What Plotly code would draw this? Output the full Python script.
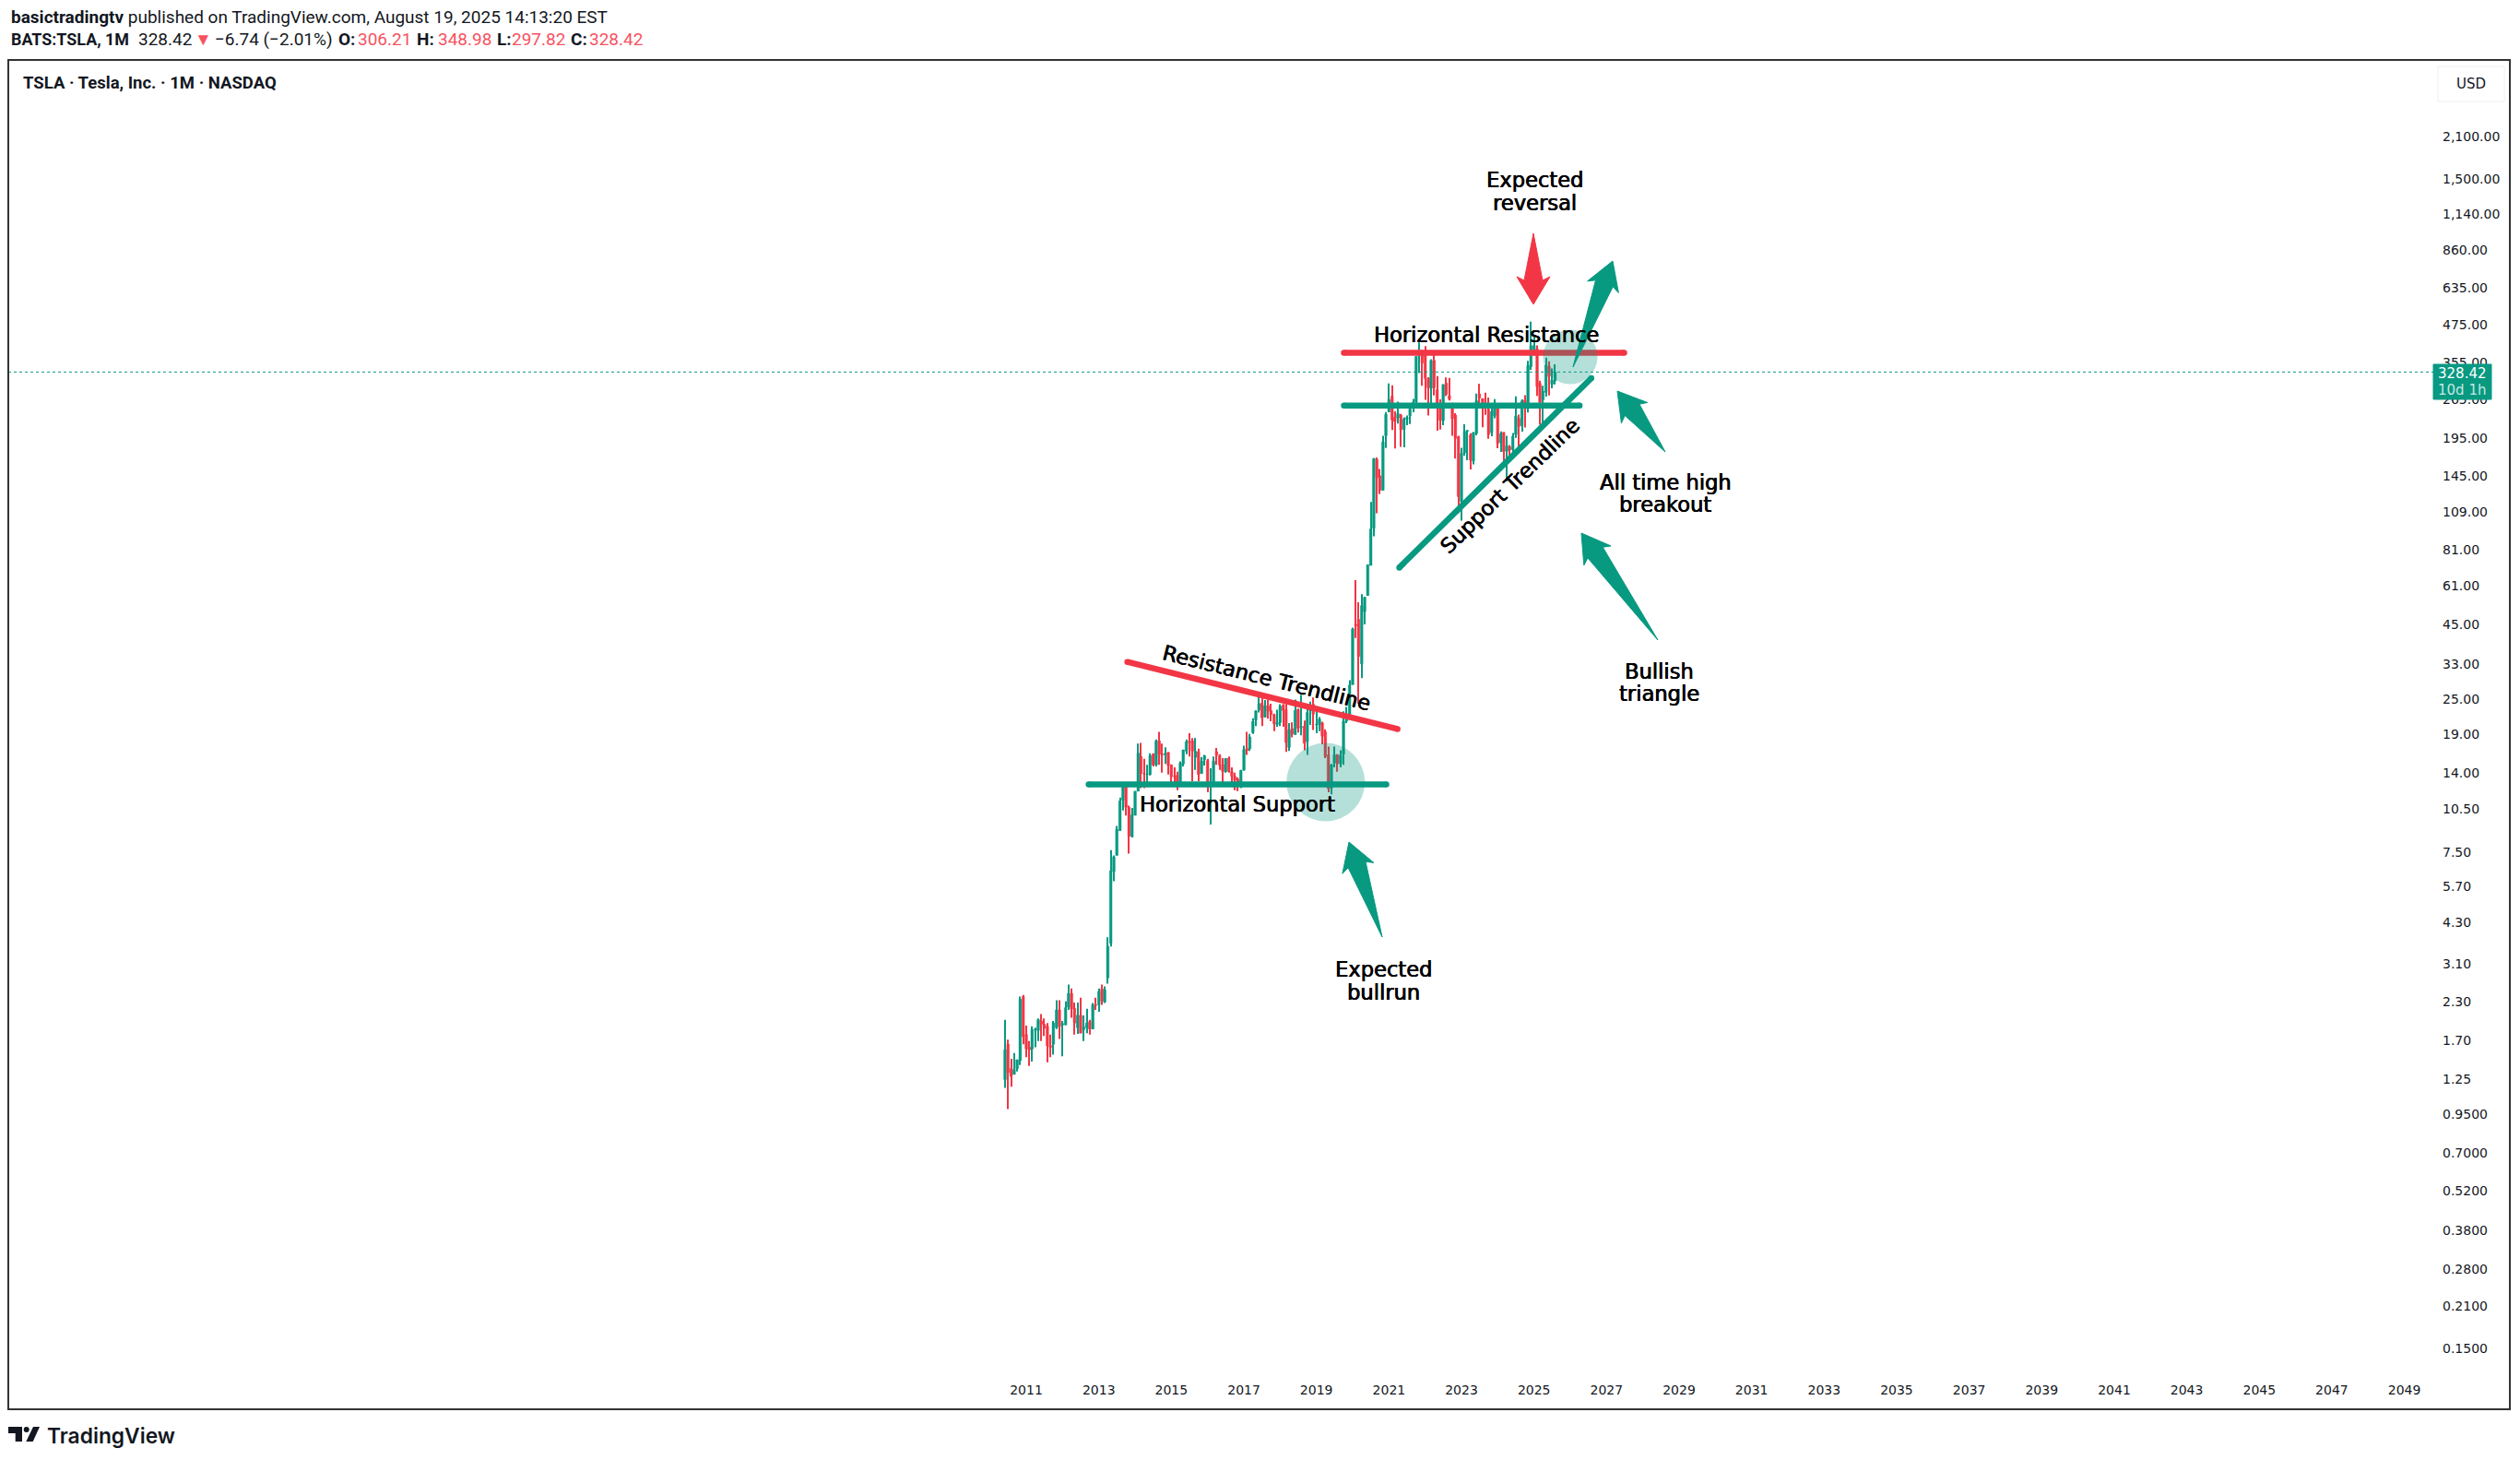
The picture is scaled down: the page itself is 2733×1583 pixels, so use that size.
#!/usr/bin/env python3

import math

import pandas as pd
import plotly.graph_objects as go

# monthly candles, Jun 2010 to Aug 2025, one row per year
opens = [
    1.25, 1.65, 1.36, 1.30, 1.36, 1.45, 2.40,
    1.78, 1.61, 1.59, 1.845, 1.84, 1.98, 1.93, 1.90, 1.63, 1.65, 1.88, 2.16,
    1.92, 1.92, 2.21, 2.46, 2.19, 1.88, 2.07, 1.85, 1.88, 1.97, 1.86, 2.25,
    2.25, 2.55, 2.30, 2.78, 3.65, 6.43, 7.30, 8.87, 11.27, 12.89, 10.65, 8.46,
    10.0, 12.10, 15.9, 13.9, 13.85, 13.8, 16.2, 14.9, 18.0, 16.2, 16.1, 16.4,
    14.9, 13.6, 13.7, 12.6, 15.0, 16.6, 17.9, 18.0, 15.8, 16.5, 13.9, 15.5,
    15.4, 12.7, 12.6, 16.5, 16.0, 14.9, 14.1, 15.7, 14.1, 13.6, 13.3, 12.6,
    14.3, 16.9, 16.9, 19.2, 21.2, 22.9, 24.2, 21.7, 23.7, 22.8, 22.1, 20.5,
    20.8, 23.9, 23.0, 17.1, 19.8, 18.9, 23.0, 20.0, 20.2, 17.9, 22.8, 24.0,
    20.4, 20.4, 20.7, 19.3, 16.1, 12.4, 15.1, 16.1, 15.0, 16.2, 21.0, 22.1,
    28.0, 45.0, 46.8, 33.0, 49.8, 56.5, 71.6, 96.0, 165.0, 145.0, 129.4, 199.2,
    239.8, 271.4, 230, 229, 234, 209, 227, 233, 248, 259.5, 381, 387,
    382, 312, 289, 360, 286, 251, 224, 301, 272.6, 254.5, 234, 197.1,
    118.5, 173.9, 206, 199.9, 163, 202.6, 276.5, 266.3, 257.3, 244.8, 204, 233,
    250, 188.5, 204, 176.2, 182, 178.1, 201, 227.7, 215, 262.7, 253, 343,
    390, 393, 300.3, 263.8, 280, 343.5, 298.5, 306.21,
]
highs = [
    2.00, 1.71, 1.47, 1.54, 1.46, 2.40, 2.43,
    1.91, 1.69, 1.90, 1.88, 2.02, 2.09, 2.02, 1.95, 1.78, 1.98, 2.33, 2.33,
    1.98, 2.31, 2.64, 2.56, 2.29, 2.29, 2.38, 2.07, 2.18, 2.00, 2.28, 2.38,
    2.56, 2.64, 2.60, 3.83, 7.60, 7.30, 9.20, 11.50, 12.97, 12.89, 10.80, 10.60,
    12.10, 17.6, 17.7, 15.6, 14.9, 16.3, 16.3, 18.2, 19.3, 17.6, 17.1, 16.5,
    14.9, 14.6, 14.1, 15.3, 16.8, 18.2, 19.1, 18.4, 18.4, 16.9, 15.8, 16.1,
    15.6, 14.5, 15.9, 17.0, 16.2, 15.7, 15.7, 15.9, 14.6, 14.0, 13.5, 14.3,
    17.3, 19.3, 19.0, 21.5, 22.9, 25.8, 25.9, 24.8, 24.9, 24.1, 22.3, 23.0,
    24.0, 24.0, 24.0, 20.7, 20.8, 24.9, 23.2, 25.8, 21.1, 23.1, 24.5, 25.3,
    23.5, 21.7, 20.9, 19.7, 17.2, 15.0, 17.2, 16.2, 16.7, 22.7, 23.5, 29.0,
    43.9, 63.8, 53.6, 57.1, 56.0, 72.0, 118.0, 166.7, 167.5, 153.0, 198.6, 239.6,
    300.1, 296, 241, 260, 236, 230, 233, 248, 266, 371.7, 414.5, 390.9,
    402.7, 315, 363, 384, 318, 265, 298.3, 314.7, 313.8, 257.5, 237.4, 198.9,
    180.7, 217.7, 207.8, 202.7, 204.5, 276.99, 299.3, 266.5, 278.98, 268.9, 252.75, 265.1,
    251.3, 205.6, 204.5, 198.9, 184.8, 203.2, 271, 234.7, 264.9, 273.5, 358.6, 488.5,
    439.7, 405, 307, 294.9, 367.7, 357.5, 338, 348.98,
]
lows = [
    1.17, 0.99, 1.18, 1.30, 1.33, 1.40, 1.65,
    1.49, 1.39, 1.44, 1.61, 1.69, 1.69, 1.76, 1.43, 1.49, 1.52, 1.86, 1.72,
    1.50, 1.92, 2.16, 2.03, 1.78, 1.79, 1.80, 1.69, 1.80, 1.78, 1.86, 2.16,
    2.13, 2.25, 2.28, 2.66, 3.56, 5.95, 7.30, 8.87, 10.40, 9.98, 7.40, 8.40,
    10.0, 12.10, 12.4, 12.4, 12.5, 13.7, 14.7, 14.7, 14.9, 14.0, 15.0, 13.8,
    12.5, 12.5, 12.2, 12.5, 14.7, 16.2, 15.9, 13.1, 14.3, 13.1, 13.9, 14.8,
    12.0, 9.3, 12.5, 14.9, 14.3, 12.9, 14.0, 14.0, 12.5, 12.2, 12.1, 12.4,
    14.2, 16.1, 16.6, 19.0, 20.2, 22.5, 20.2, 21.6, 21.4, 21.0, 19.4, 20.1,
    20.2, 20.1, 16.5, 16.6, 18.5, 18.9, 19.2, 18.8, 16.7, 16.1, 20.4, 19.6,
    19.1, 19.4, 17.5, 15.7, 12.0, 11.8, 14.6, 14.1, 14.6, 14.9, 20.7, 21.8,
    28.0, 40.4, 24.1, 29.5, 45.0, 56.5, 71.6, 90.0, 108.0, 125.6, 129.4, 180.4,
    239.1, 208, 179.8, 219, 182.3, 181.4, 216, 218, 239, 257, 326, 295,
    264, 233, 252, 273, 206.9, 208.7, 216, 271.8, 262.5, 198.6, 166.2, 108.2,
    101.8, 169.9, 163.9, 152.4, 158.8, 199.4, 254.1, 212.4, 234.6, 194.1, 197.9, 228.2,
    180.1, 175, 160.5, 138.8, 167.4, 170.2, 195.4, 180.1, 205.3, 212.1, 238.9, 334,
    373, 272, 217, 214.25, 270.8, 273.2, 288.8, 297.82,
]
closes = [
    1.58, 1.32, 1.28, 1.35, 1.46, 2.35, 1.75,
    1.59, 1.58, 1.85, 1.855, 2.00, 1.93, 1.87, 1.63, 1.61, 1.95, 2.16, 1.90,
    1.94, 2.20, 2.46, 2.18, 1.95, 2.07, 1.80, 1.89, 1.95, 1.86, 2.25, 2.24,
    2.50, 2.32, 2.53, 3.57, 6.47, 7.21, 8.95, 11.20, 12.89, 10.66, 8.49, 10.03,
    12.09, 16.32, 13.90, 13.86, 13.87, 16.0, 14.89, 17.98, 16.18, 16.11, 16.30, 14.83,
    13.57, 13.56, 12.58, 15.07, 16.72, 17.88, 17.74, 16.60, 16.56, 13.80, 15.35, 16.0,
    12.75, 12.80, 15.32, 16.05, 14.88, 14.15, 15.65, 14.13, 13.60, 13.18, 12.63, 14.25,
    16.80, 16.67, 18.55, 20.94, 22.73, 24.11, 21.56, 23.73, 22.74, 22.10, 20.59, 20.76,
    23.62, 22.87, 17.74, 19.59, 18.98, 22.86, 19.88, 20.11, 17.65, 22.49, 23.37, 22.19,
    20.47, 21.33, 18.66, 15.91, 12.34, 14.90, 16.11, 15.04, 16.06, 20.99, 22.0, 27.89,
    43.37, 44.53, 34.93, 52.13, 55.67, 71.99, 95.38, 166.11, 143.0, 129.35, 189.2, 235.22,
    264.51, 225.17, 222.64, 236.48, 208.41, 226.57, 229.07, 245.24, 258.49, 371.33, 381.59, 352.26,
    312.24, 290.14, 359.2, 290.25, 252.75, 224.47, 297.15, 275.61, 265.25, 227.54, 194.7, 123.18,
    173.22, 205.71, 207.46, 164.31, 203.93, 261.77, 267.43, 258.08, 250.22, 200.84, 240.08, 248.48,
    187.29, 201.88, 175.79, 183.28, 178.08, 197.88, 232.07, 214.11, 261.63, 249.85, 345.16, 403.84,
    404.6, 292.98, 259.16, 282.16, 346.46, 317.66, 308.27, 328.42,
]

price_ticks = [
    0.15, 0.21, 0.28, 0.38, 0.52, 0.70, 0.95, 1.25, 1.70, 2.30, 3.10, 4.30, 5.70,
    7.50, 10.50, 14, 19, 25, 33, 45, 61, 81, 109, 145, 195, 265, 355, 475, 635,
    860, 1140, 1500, 2100, 2800,
]
price_labels = [
    "0.1500", "0.2100", "0.2800", "0.3800", "0.5200", "0.7000", "0.9500", "1.25",
    "1.70", "2.30", "3.10", "4.30", "5.70", "7.50", "10.50", "14.00", "19.00",
    "25.00", "33.00", "45.00", "61.00", "81.00", "109.00", "145.00", "195.00",
    "265.00", "355.00", "475.00", "635.00", "860.00", "1,140.00", "1,500.00",
    "2,100.00", "2,800.00",
]
year_ticks = list(range(2011, 2050, 2))

last_price = 328.42

# drawn trend lines: colour, start date, end date, start price, end price
trend_lines = [
    ("#089981", "2012-09-20", "2020-12-05", 12.76, 12.76),
    ("#F23645", "2013-10-15", "2021-03-28", 33.5, 19.75),
    ("#F23645", "2019-10-05", "2027-06-28", 382, 382),
    ("#089981", "2019-10-05", "2026-04-05", 252.2, 252.2),
    ("#089981", "2021-04-15", "2026-08-01", 70.4, 313),
]

GREEN = "#089981"
RED = "#F23645"
INK = "#131722"
VALUE_RED = "#F7525F"
LABEL_FONT = "DejaVu Sans"
HEAD_FONT = "Roboto"
THICK = "0.45px 0 0 #000000, -0.25px 0 0 #000000"

WIDTH, HEIGHT = 2733, 1583
LEFT, RIGHT, TOP, BOTTOM = 9, 2722, 65, 1528
DAY_MS = 86400000


def px(x, y):
    """Screen pixel to paper coordinates of the framed box."""
    return (x - LEFT) / (RIGHT - LEFT), (BOTTOM - y) / (BOTTOM - TOP)


def path_of(points):
    parts = []
    for x, y in points:
        u, v = px(x, y)
        parts.append(f"{u:.5f},{v:.5f}")
    return "M " + " L ".join(parts) + " Z"


def arrow(tail, tip, color):
    dx, dy = tip[0] - tail[0], tip[1] - tail[1]
    length = math.hypot(dx, dy)
    ux, uy = dx / length, dy / length
    nx, ny = -uy, ux
    bx, by = tip[0] - ux * 30, tip[1] - uy * 30
    nk = (tip[0] - ux * 26, tip[1] - uy * 26)
    points = [
        tip,
        (bx + nx * 18, by + ny * 18),
        (nk[0] + nx * 10, nk[1] + ny * 10),
        tail,
        (nk[0] - nx * 10, nk[1] - ny * 10),
        (bx - nx * 18, by - ny * 18),
    ]
    return dict(
        type="path",
        xref="paper",
        yref="paper",
        path=path_of(points),
        fillcolor=color,
        line=dict(color=color, width=1),
    )


def circle(x, y, r):
    x0, y0 = px(x - r, y + r)
    x1, y1 = px(x + r, y - r)
    return dict(
        type="circle",
        xref="paper",
        yref="paper",
        x0=x0,
        y0=y0,
        x1=x1,
        y1=y1,
        fillcolor="rgba(8,153,129,0.3)",
        line=dict(width=0),
    )


def rect(x0, y0, x1, y1, fill, line_color=None):
    u0, v0 = px(x0, y0)
    u1, v1 = px(x1, y1)
    return dict(
        type="rect",
        xref="paper",
        yref="paper",
        x0=u0,
        y0=v0,
        x1=u1,
        y1=v1,
        fillcolor=fill,
        line=dict(color=line_color or fill, width=1),
    )


def note(text, x, y, size=22.6, family=LABEL_FONT, color="#000000", angle=0, anchor="center", weight=None, shadow=None):
    u, v = px(x, y)
    font = dict(family=family, size=size, color=color)
    if weight:
        font["weight"] = weight
    if shadow:
        font["shadow"] = shadow
    return dict(
        text=text,
        x=u,
        y=v,
        xref="paper",
        yref="paper",
        xanchor=anchor,
        yanchor="middle",
        showarrow=False,
        textangle=angle,
        font=font,
    )


def mark(text, x, y, angle=0):
    return note(text, x, y, angle=angle, shadow=THICK)


def head(text, x, y, color=INK, size=19):
    return note(text, x, y, size=size, family=HEAD_FONT, color=color, anchor="left")


months = pd.date_range("2010-06-01", periods=len(closes), freq="MS")
colors = [GREEN if c >= o else RED for o, c in zip(opens, closes)]

fig = go.Figure()
# wicks and bodies are two overlaid bar layers, a candlestick trace cannot set its box width
fig.add_trace(
    go.Bar(
        x=months,
        base=lows,
        y=[h - l for h, l in zip(highs, lows)],
        width=10 * DAY_MS,
        marker=dict(color=colors, line=dict(width=0)),
        hoverinfo="skip",
    )
)
fig.add_trace(
    go.Bar(
        x=months,
        base=[min(o, c) for o, c in zip(opens, closes)],
        y=[abs(o - c) for o, c in zip(opens, closes)],
        width=25 * DAY_MS,
        marker=dict(color=colors, line=dict(color=colors, width=0.5)),
        hoverinfo="skip",
    )
)
fig.add_trace(
    go.Scatter(
        x=["1982-12-06", "2050-01-11"],
        y=[last_price, last_price],
        mode="lines",
        line=dict(color=GREEN, width=1, dash="dot"),
        hoverinfo="skip",
    )
)
for color, start, end, p0, p1 in trend_lines:
    fig.add_trace(
        go.Scatter(
            x=[start, end],
            y=[p0, p1],
            mode="lines+markers",
            line=dict(color=color, width=6.5),
            marker=dict(color=color, size=6.5),
            hoverinfo="skip",
        )
    )

shapes = [
    circle(1437.7, 848, 42.5),
    circle(1703, 387, 29.5),
    arrow((1499, 1016), (1463, 913), GREEN),
    arrow((1806, 490), (1754, 424), GREEN),
    arrow((1798, 694), (1715, 578), GREEN),
    arrow((1663, 253), (1663, 330), RED),
    arrow((1706, 398), (1749, 283), GREEN),
    # frame, USD button, last price tag
    dict(
        type="rect",
        xref="paper",
        yref="paper",
        x0=0,
        y0=0,
        x1=1,
        y1=1,
        line=dict(color="#333333", width=2),
    ),
    rect(2640, 72, 2720, 115, "#ffffff"),
    rect(2644, 72, 2716, 110, "#ffffff", "#f0f0f0"),
    rect(2639, 395, 2702, 433, GREEN),
    # logo
    dict(
        type="path",
        xref="paper",
        yref="paper",
        path=path_of([(9, 1547), (24, 1547), (24, 1563), (16.7, 1563), (16.7, 1554), (9, 1554)]),
        fillcolor=INK,
        line=dict(width=0),
    ),
    dict(
        type="path",
        xref="paper",
        yref="paper",
        path=path_of([(36, 1547), (43, 1547), (35.7, 1563), (28.3, 1563)]),
        fillcolor=INK,
        line=dict(width=0),
    ),
    circle(28.7, 1550, 3) | dict(fillcolor=INK),
]

annotations = [
    head("<b>basictradingtv</b> published on TradingView.com, August 19, 2025 14:13:20 EST", 10, 19),
    head("<b>BATS:TSLA, 1M</b>", 10, 43, size=17.9),
    head("328.42", 148, 43),
    head("▼", 209, 43, VALUE_RED),
    head("−6.74 (−2.01%)", 231, 43),
    head("<b>O:</b>", 365, 43),
    head("306.21", 386, 43, VALUE_RED),
    head("<b>H:</b>", 450, 43),
    head("348.98", 473, 43, VALUE_RED),
    head("<b>L:</b>", 537, 43),
    head("297.82", 553, 43, VALUE_RED),
    head("<b>C:</b>", 617, 43),
    head("328.42", 637, 43, VALUE_RED),
    head("<b>TSLA · Tesla, Inc. · 1M · NASDAQ</b>", 23, 90, size=18.5),
    note("USD", 2680, 91, size=15, color=INK),
    note("328.42", 2670, 405, size=15, color="#ffffff"),
    note("10d 1h", 2670, 423, size=15, color="#c4e8e1"),
    mark("Expected", 1664, 195),
    mark("reversal", 1664, 220),
    mark("Horizontal Resistance", 1612, 362.5),
    mark("Resistance Trendline", 1374, 735, angle=14),
    mark("Support Trendline", 1637, 527, angle=-44),
    mark("Horizontal Support", 1342, 871.5),
    mark("All time high", 1806, 523),
    mark("breakout", 1806, 547),
    mark("Bullish", 1799, 728),
    mark("triangle", 1799, 752),
    mark("Expected", 1500, 1051),
    mark("bullrun", 1500, 1076),
    note("TradingView", 49, 1556, size=22.8, family="Inter", color=INK, anchor="left", weight=600),
]

fig.update_layout(
    width=WIDTH,
    height=HEIGHT,
    margin=dict(l=LEFT, r=WIDTH - RIGHT, t=TOP, b=HEIGHT - BOTTOM),
    paper_bgcolor="#ffffff",
    plot_bgcolor="#ffffff",
    showlegend=False,
    barmode="overlay",
    shapes=shapes,
    annotations=annotations,
    xaxis=dict(
        domain=[0, (2648 - LEFT) / (RIGHT - LEFT)],
        type="date",
        range=["1982-12-06", "2050-01-11"],
        tickvals=[f"{y}-01-01" for y in year_ticks],
        ticktext=[str(y) for y in year_ticks],
        tickfont=dict(family=LABEL_FONT, size=14, color=INK),
        showgrid=False,
        zeroline=False,
        showline=False,
        ticks="",
    ),
    yaxis=dict(
        domain=[(BOTTOM - 1497) / (BOTTOM - TOP), 1],
        type="log",
        side="right",
        range=[-0.9335, 3.5838],
        tickvals=price_ticks,
        ticktext=price_labels,
        tickfont=dict(family=LABEL_FONT, size=14, color=INK),
        showgrid=False,
        zeroline=False,
        showline=False,
        ticks="",
    ),
)

fig.write_html(
    "out.html",
    config={"displayModeBar": False},
    post_script="document.body.style.margin='0';",
)
